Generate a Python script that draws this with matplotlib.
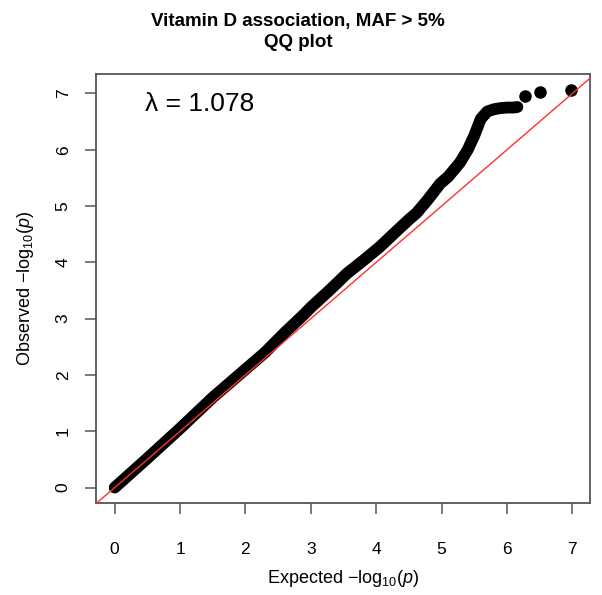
import matplotlib
matplotlib.use("Agg")
import matplotlib.pyplot as plt

# QQ plot values (band centre, expected vs observed -log10 p)
expected = [0.0, 0.5, 1.0, 1.5, 2.0, 2.3, 2.6, 2.9, 3.0, 3.3, 3.55, 3.8,
            4.06, 4.26, 4.5, 4.62, 4.78, 4.98, 5.1, 5.28, 5.4, 5.5, 5.6,
            5.7, 5.8, 5.9, 6.0, 6.1, 6.16]
observed = [0.0, 0.52, 1.05, 1.6, 2.1, 2.4, 2.75, 3.08, 3.2, 3.52, 3.8, 4.03,
            4.28, 4.5, 4.76, 4.88, 5.1, 5.4, 5.52, 5.77, 6.0, 6.25, 6.55,
            6.68, 6.72, 6.74, 6.75, 6.75, 6.76]
# top hits drawn as separate dots
top_expected = [6.28, 6.51, 6.98]
top_observed = [6.96, 7.02, 7.06]

ticks = [0, 1, 2, 3, 4, 5, 6, 7]
lambda_gc = 1.078

plt.rcParams["font.family"] = ["Liberation Sans", "DejaVu Sans"]
plt.rcParams["mathtext.fontset"] = "custom"
plt.rcParams["mathtext.rm"] = "Liberation Sans"
plt.rcParams["mathtext.it"] = "Liberation Sans:italic"

fig = plt.figure(figsize=(6.02, 5.95), dpi=100)
ax = fig.add_axes([0.159, 0.155, 0.821, 0.721])

ax.plot(expected, observed, color="black", linewidth=8.5,
        solid_capstyle="round", solid_joinstyle="round", zorder=2)
ax.plot(top_expected, top_observed, "o", color="black", markersize=8, zorder=2)
ax.axline((0, 0), slope=1, color="#ff3030", linewidth=1.0, zorder=3)

ax.set_xlim(-0.29, 7.27)
ax.set_ylim(-0.27, 7.35)
ax.set_xticks(ticks)
ax.set_yticks(ticks)
ax.set_yticklabels([str(t) for t in ticks], rotation=90, va="center")

for s in ax.spines.values():
    s.set_color("#555555")
    s.set_linewidth(1.3)
ax.tick_params(length=8, width=1.1, color="#555555", labelsize=12.5)
ax.tick_params(axis="x", pad=20)
ax.tick_params(axis="y", pad=10)

ax.text(0.46, 6.82, "λ = %.3f" % lambda_gc, fontsize=19, ha="left", va="center")

ax.set_xlabel(r"Expected $-\mathrm{log}_{10}(\mathit{p})$", fontsize=13, labelpad=8)
ax.set_ylabel(r"Observed $-\mathrm{log}_{10}(\mathit{p})$", fontsize=13, labelpad=14)
fig.suptitle("Vitamin D association, MAF > 5%\nQQ plot", fontsize=13.5,
             fontweight="bold", x=0.495, y=0.978, va="top", linespacing=1.3)

fig.savefig("out.png", dpi=100)
